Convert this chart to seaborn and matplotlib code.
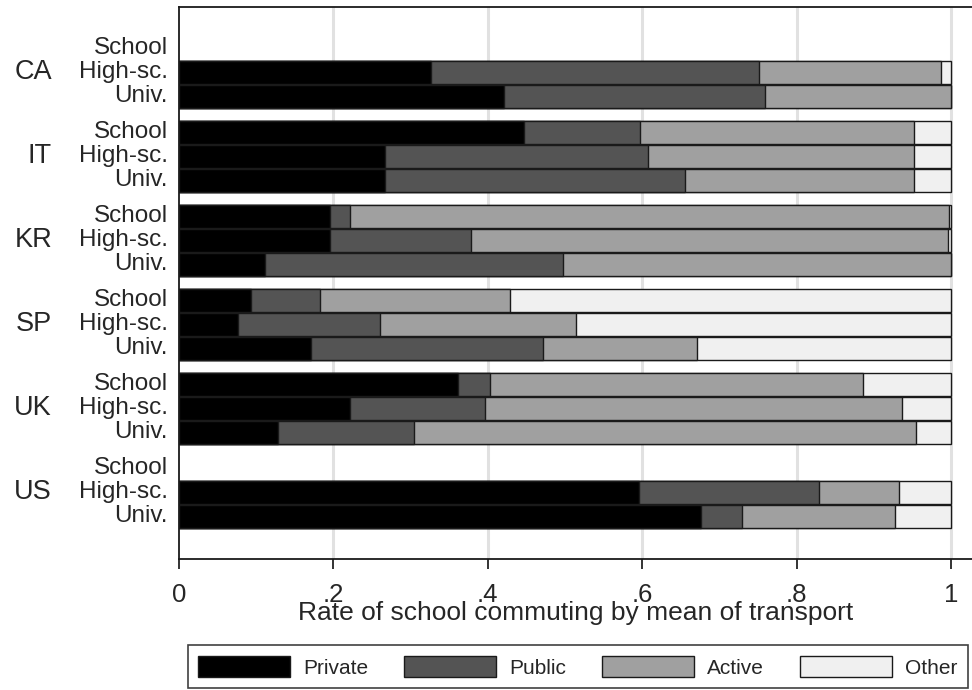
import numpy as np
import pandas as pd
import matplotlib
matplotlib.use("Agg")
import matplotlib.pyplot as plt
import matplotlib.transforms as mtransforms
from matplotlib.patches import Patch
import seaborn as sns

countries = ["CA", "IT", "KR", "SP", "UK", "US"]
levels = ["School", "High-sc.", "Univ."]
modes = ["Private", "Public", "Active", "Other"]
colors = ["#000000", "#545454", "#a0a0a0", "#f0f0f0"]

# shares per country (rows: School, High-sc., Univ.); None = no data
private = [[None, 0.326, 0.421], [0.447, 0.267, 0.267], [0.196, 0.196, 0.111],
           [0.093, 0.077, 0.171], [0.361, 0.221, 0.128], [None, 0.596, 0.676]]
public = [[None, 0.425, 0.338], [0.150, 0.340, 0.389], [0.025, 0.182, 0.386],
          [0.090, 0.184, 0.300], [0.042, 0.175, 0.177], [None, 0.233, 0.053]]
active = [[None, 0.236, 0.241], [0.355, 0.345, 0.296], [0.776, 0.618, 0.503],
          [0.246, 0.253, 0.200], [0.483, 0.540, 0.650], [None, 0.103, 0.198]]
other = [[None, 0.013, 0.000], [0.048, 0.048, 0.048], [0.003, 0.004, 0.000],
         [0.571, 0.486, 0.329], [0.114, 0.064, 0.045], [None, 0.068, 0.073]]

rows = []
for g, c in enumerate(countries):
    for r, lv in enumerate(levels):
        if private[g][r] is None:
            continue
        vals = [private[g][r], public[g][r], active[g][r], other[g][r]]
        cum = np.cumsum(vals)
        rows.append(dict(country=c, level=lv, pos=g * 3.5 + r,
                         **{m: v for m, v in zip(modes, cum)}))
df = pd.DataFrame(rows)

sns.set_theme(style="white")
plt.rcParams["font.family"] = ["Liberation Sans", "DejaVu Sans"]

fig = plt.figure(figsize=(9.72, 6.9), dpi=100)
ax = fig.add_axes([179 / 972, 1 - 559 / 690, 1 - 179 / 972, (559 - 7) / 690])

for x in [0.2, 0.4, 0.6, 0.8, 1.0]:
    ax.axvline(x, color="#e1e1e1", lw=2.2, zorder=0)

for m, col in reversed(list(zip(modes, colors))):
    sns.barplot(data=df, x=m, y="pos", orient="h", native_scale=True,
                color=col, saturation=1, width=0.96, errorbar=None,
                edgecolor="#1a1a1a", linewidth=1.0, ax=ax, zorder=2)

ax.set_xlim(0, (972 - 179) / 772)
ax.set_ylim(21.29, -1.73)
ax.set_yticks([])
ax.set_ylabel("")
ticks = [0, 0.2, 0.4, 0.6, 0.8, 1.0]
ax.set_xticks(ticks)
ax.set_xticklabels(["0", ".2", ".4", ".6", ".8", "1"], fontsize=18.5)
ax.tick_params(axis="x", direction="out", length=7, width=1.2, color="#111111",
               pad=10, bottom=True)
ax.set_xlabel("Rate of school commuting by mean of transport", fontsize=19,
              labelpad=-4)

for s in ["left", "bottom", "top"]:
    ax.spines[s].set_visible(True)
    ax.spines[s].set_color("#1a1a1a")
    ax.spines[s].set_linewidth(1.3)
ax.spines["right"].set_visible(False)

trans = mtransforms.blended_transform_factory(fig.transFigure, ax.transData)
for g, c in enumerate(countries):
    for r, lv in enumerate(levels):
        ax.text(168 / 972, g * 3.5 + r, lv, transform=trans, ha="right",
                va="center", fontsize=17.5, clip_on=False)
    ax.text(52 / 972, g * 3.5 + 1, c, transform=trans, ha="right",
            va="center", fontsize=19.5, clip_on=False)

handles = [Patch(facecolor=col, edgecolor="#1a1a1a", linewidth=1.0, label=m)
           for m, col in zip(modes, colors)]
leg = fig.legend(handles=handles, loc="lower left", ncol=4, mode="expand",
                 bbox_to_anchor=(188 / 972, 2 / 690, 780 / 972, 46 / 690),
                 fontsize=15, handlelength=4.4, handleheight=1.2,
                 handletextpad=0.65, borderaxespad=0, fancybox=False,
                 frameon=True, borderpad=0.5)
leg.get_frame().set_edgecolor("#111111")
leg.get_frame().set_linewidth(1.2)

fig.savefig("out.png", dpi=100)
